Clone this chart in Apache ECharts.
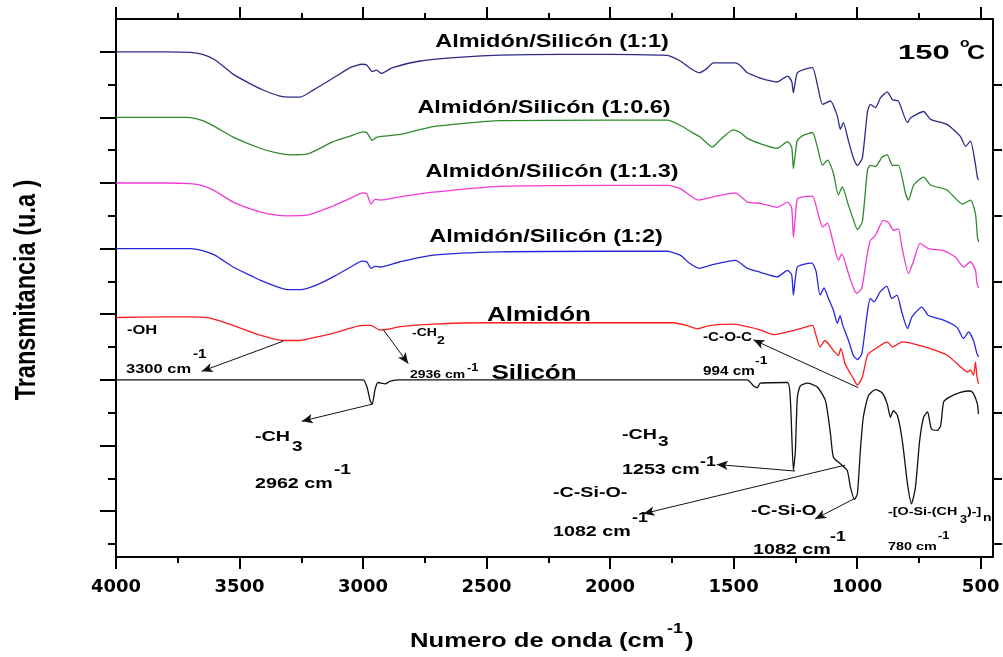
<!DOCTYPE html>
<html><head><meta charset="utf-8">
<script src="https://cdn.jsdelivr.net/npm/echarts@6/dist/echarts.min.js"></script>
<style>html,body{margin:0;padding:0;background:#fff}#c{width:1003px;height:657px}</style>
</head><body><div id="c"></div>
<script>
// ---- tick values ----
const xTickLabels = [500,1000,1500,2000,2500,3000,3500,4000];
const xMinorTicks = [750,1250,1750,2250,2750,3250,3750];
const yMajorTicks = [0,1,2,3,4,5,6,7];
const yMinorTicks = [-0.5,0.5,1.5,2.5,3.5,4.5,5.5,6.5];

// ---- series names / colours ----
const seriesNames = ['Almidón/Silicón (1:1)','Almidón/Silicón (1:0.6)','Almidón/Silicón (1:1.3)','Almidón/Silicón (1:2)','Almidón','Silicón'];
const seriesColors = ['#2c2c86','#2d8a2d','#f23ad4','#2626dc','#ff1c1c','#111111'];

// ---- spectra: wavenumber (cm-1) and transmittance (u.a., offset) ----
const wn_11 = [4000,3800,3700,3650,3600,3526,3450,3400,3340,3300,3255,3200,3121,3052,3004,2985,2963,2945,2927,2880,2769,2600,2445,2200,2000,1800,1768,1716,1680,1639,1610,1582,1493,1470,1444,1392,1365,1323,1282,1265,1258,1250,1242,1217,1181,1161,1140,1108,1080,1068,1056,1035,1015,999,979,958,946,926,905,878,857,833,796,784,731,703,635,582,561,541,521,513,508];
const t_11 = [7.00,7.00,6.99,6.96,6.88,6.66,6.50,6.41,6.33,6.31,6.31,6.42,6.60,6.76,6.81,6.80,6.70,6.72,6.67,6.76,6.86,6.92,6.95,6.96,6.96,6.95,6.945,6.86,6.76,6.68,6.74,6.83,6.83,6.78,6.68,6.60,6.57,6.54,6.63,6.55,6.375,6.55,6.68,6.73,6.76,6.50,6.20,6.25,6.02,5.82,5.92,5.64,5.38,5.27,5.38,6.09,6.20,6.15,6.30,6.39,6.27,6.25,5.92,5.99,6.09,5.97,5.89,5.71,5.56,5.64,5.28,5.08,5.05];

const wn_106 = [4000,3800,3713,3650,3600,3526,3417,3350,3295,3227,3121,3050,3000,2985,2963,2943,2850,2716,2445,2000,1768,1716,1663,1635,1586,1554,1501,1473,1444,1392,1323,1282,1265,1258,1250,1242,1217,1181,1161,1140,1120,1096,1076,1060,1035,1015,999,979,958,946,926,898,878,857,833,804,792,771,731,703,635,574,541,521,513,508];
const t_106 = [6.00,6.00,6.00,5.95,5.86,5.70,5.53,5.46,5.43,5.44,5.63,5.72,5.78,5.77,5.65,5.70,5.74,5.86,5.95,5.96,5.96,5.88,5.76,5.70,5.55,5.66,5.81,5.77,5.68,5.60,5.53,5.63,5.55,5.22,5.45,5.65,5.73,5.77,5.55,5.27,5.35,5.15,4.82,4.94,4.66,4.44,4.29,4.41,5.20,5.27,5.25,5.40,5.43,5.27,5.27,4.84,4.74,4.97,5.09,4.97,4.89,4.68,4.74,4.53,4.18,4.10];

const wn_113 = [4000,3800,3700,3650,3600,3526,3417,3350,3307,3227,3121,3050,3000,2985,2968,2951,2930,2850,2716,2445,2000,1768,1716,1643,1582,1493,1444,1392,1323,1282,1265,1258,1250,1242,1217,1181,1161,1140,1120,1096,1076,1062,1035,1015,1001,981,961,947,926,894,873,853,833,819,792,771,745,711,650,602,569,541,521,515,508];
const t_113 = [5.00,5.00,4.99,4.96,4.88,4.71,4.56,4.51,4.50,4.51,4.65,4.77,4.85,4.84,4.68,4.75,4.74,4.79,4.86,4.95,4.965,4.965,4.915,4.74,4.79,4.85,4.71,4.69,4.63,4.71,4.62,4.17,4.50,4.76,4.79,4.80,4.58,4.33,4.39,4.08,3.82,3.92,3.62,3.40,3.32,3.40,3.87,4.12,4.20,4.43,4.40,4.28,4.30,4.03,3.62,3.82,4.08,4.00,3.97,3.87,3.72,3.80,3.67,3.47,3.40];

const wn_12 = [4000,3800,3700,3650,3600,3526,3450,3417,3350,3307,3243,3180,3121,3050,3004,2985,2968,2951,2930,2850,2716,2445,2000,1768,1716,1680,1639,1582,1493,1444,1392,1323,1282,1265,1258,1250,1242,1217,1183,1166,1150,1134,1117,1096,1080,1069,1058,1035,1015,999,981,961,947,931,907,880,860,839,819,796,778,738,711,650,596,569,549,529,515,508];
const t_12 = [4.00,4.00,4.00,3.97,3.90,3.72,3.58,3.52,3.42,3.375,3.38,3.46,3.57,3.72,3.81,3.80,3.70,3.73,3.72,3.80,3.90,3.95,3.96,3.96,3.90,3.78,3.70,3.76,3.82,3.70,3.64,3.57,3.67,3.60,3.29,3.55,3.72,3.76,3.78,3.65,3.29,3.40,3.25,3.06,2.86,2.98,2.83,2.60,2.37,2.31,2.40,2.96,3.24,3.19,3.34,3.43,3.24,3.29,3.03,2.78,2.96,3.11,2.98,2.91,2.80,2.63,2.73,2.60,2.40,2.35];

const wn_alm = [4000,3800,3700,3631,3580,3526,3417,3323,3255,3190,3121,3000,2970,2930,2903,2850,2716,2498,2000,1744,1690,1647,1594,1501,1444,1392,1339,1282,1230,1181,1169,1150,1130,1096,1076,1066,1049,1028,1015,999,979,958,926,878,857,817,771,703,635,582,554,541,529,521,515,508];
const t_alm = [2.95,2.96,2.96,2.95,2.90,2.83,2.68,2.60,2.60,2.65,2.71,2.83,2.83,2.76,2.77,2.81,2.85,2.87,2.87,2.87,2.83,2.78,2.83,2.85,2.81,2.76,2.69,2.73,2.78,2.83,2.71,2.50,2.60,2.45,2.37,2.48,2.25,2.10,2.02,1.92,2.04,2.375,2.475,2.58,2.50,2.58,2.55,2.475,2.375,2.20,2.12,2.15,2.07,2.27,2.05,1.94];

const wn_sil = [4000,3000,2984,2971,2963,2951,2939,2910,2890,2850,1444,1420,1404,1392,1282,1270,1258,1250,1242,1230,1201,1161,1128,1108,1096,1068,1040,1027,1011,999,987,975,954,926,898,878,865,853,837,817,796,780,764,747,731,715,699,675,662,650,630,582,541,529,513,509];
const t_sil = [2.00,2.00,1.89,1.68,1.63,1.86,1.96,1.94,1.98,2.00,2.00,1.91,1.88,1.95,1.96,1.68,0.62,0.92,1.73,1.91,1.95,1.89,1.68,1.18,0.82,0.72,0.62,0.36,0.18,0.26,0.92,1.43,1.76,1.85,1.80,1.63,1.43,1.53,1.46,1.07,0.41,0.11,0.36,1.07,1.43,1.51,1.25,1.23,1.30,1.66,1.73,1.81,1.83,1.79,1.63,1.48];

// ---- annotation arrows (data coordinates: from -> to) ----
const arrows = [
  [[3323,2.59],[3653,2.13]],
  [[2918,2.765],[2817,2.247]],
  [[2962,1.63],[3248,1.37]],
  [[995,1.88],[1420,2.61]],
  [[1251,0.61],[1568,0.71]],
  [[1049,0.70],[1865,-0.04]],
  [[1011,0.19],[1170,-0.12]]
];

const wnList = [wn_11, wn_106, wn_113, wn_12, wn_alm, wn_sil];
const tList = [t_11, t_106, t_113, t_12, t_alm, t_sil];

const FONT = "'Liberation Sans', Arial, sans-serif";
function txt(t, x, y, fs, o) {
  o = o || {};
  const al = o.align || 'left';
  return {type:'text', x:x, y:y, scaleX:(o.sx!==undefined?o.sx:1.27), scaleY:(o.sy||1), rotation:(o.rot||0), silent:true, z:100,
    style:{text:t, fill:'#000', font:'bold ' + fs + 'px ' + FONT, textAlign:al, align:al, textVerticalAlign:'middle', verticalAlign:'middle'}};
}

const lineAx = {show:true, onZero:false, lineStyle:{color:'#000', width:2}};
const noLine = {show:false, onZero:false};
const tickStyle = {color:'#000', width:2};
function xAx(pos, ticks, len, showLine, showLabel) {
  return {type:'value', position:pos, inverse:true, min:450, max:4000,
    axisLine: showLine ? lineAx : noLine,
    axisTick:{show:true, inside:false, customValues:ticks, length:len, lineStyle:tickStyle},
    axisLabel: showLabel ? {show:true, customValues:xTickLabels, margin:21, formatter:function(v){ return String(v); },
      fontFamily:'DejaVu Sans', fontWeight:'bold', fontSize:18, color:'#000'} : {show:false},
    splitLine:{show:false}};
}
function yAx(pos, ticks, len, showLine) {
  return {type:'value', position:pos, min:-0.7, max:7.5,
    axisLine: showLine ? lineAx : noLine,
    axisTick:{show:true, inside:false, customValues:ticks, length:len, lineStyle:tickStyle},
    axisLabel:{show:false}, splitLine:{show:false}};
}

const chart = echarts.init(document.getElementById('c'), null, {renderer:'canvas'});

const series = seriesNames.map(function(n, i){
  const s = {type:'line', name:n, xAxisIndex:0, yAxisIndex:0, showSymbol:false, symbol:'none', smooth:0.2,
    data: wnList[i].map(function(x, k){ return [x, tList[i][k]]; }),
    lineStyle:{color:seriesColors[i], width:1.3}, itemStyle:{color:seriesColors[i]}, silent:true, z:2};
  if (i === seriesNames.length - 1) {
    s.markLine = {silent:true, symbol:['none','arrow'], symbolSize:[7,11], label:{show:false},
      lineStyle:{color:'#111', width:1, type:'solid'}, emphasis:{disabled:true},
      data: arrows.map(function(a){ return [{coord:a[0]},{coord:a[1]}]; })};
  }
  return s;
});

const graphics = [
  // series labels
  txt(seriesNames[0], 552, 42, 18.5, {align:'center'}),
  txt(seriesNames[1], 544, 108, 18.5, {align:'center'}),
  txt(seriesNames[2], 552, 172, 18.5, {align:'center'}),
  txt(seriesNames[3], 546, 237, 18.5, {align:'center'}),
  txt(seriesNames[4], 539, 315, 20, {align:'center', sx:1.3}),
  txt(seriesNames[5], 534, 373, 20, {align:'center', sx:1.3}),
  // temperature
  txt('150', 898, 53, 20, {sx:1.55}),
  txt('o', 960, 43, 13, {sx:1.2}),
  txt('C', 967, 53, 20, {sx:1.25}),
  // axis titles
  txt('Numero de onda (cm', 410, 641, 20, {sx:1.28}),
  txt('-1', 667, 629, 15, {sx:1.2}),
  txt(')', 685, 641, 20, {sx:1.28}),
  txt('Transmitancia (u.a )', 27, 290, 23.5, {align:'center', sx:1, sy:1.27, rot:Math.PI/2}),
  // band annotations
  txt('-OH', 127, 330, 13),
  txt('3300 cm', 126, 369.5, 13),
  txt('-1', 193, 355, 12),
  txt('-CH', 412, 333, 11),
  txt('2', 437, 341, 11),
  txt('2936 cm', 410, 375, 11),
  txt('-1', 467, 368, 10),
  txt('-CH', 255, 437, 15.5),
  txt('3', 292, 447, 15),
  txt('2962 cm', 255, 484, 15.5),
  txt('-1', 334, 470, 15),
  txt('-C-O-C', 703, 338, 12),
  txt('994 cm', 703, 372, 12),
  txt('-1', 755, 361, 11),
  txt('-CH', 622, 435, 15.5),
  txt('3', 658, 442, 15),
  txt('1253 cm', 622, 470, 15.5),
  txt('-1', 700, 462, 14),
  txt('-C-Si-O-', 553, 493, 15.5),
  txt('1082 cm', 553, 532, 15.5),
  txt('-1', 632, 518, 14),
  txt('-C-Si-O', 751, 511, 15),
  txt('1082 cm', 753, 550, 15.5),
  txt('-1', 830, 537, 14),
  txt('-[O-Si-(CH', 888, 512, 11.3),
  txt('3', 960, 520, 10),
  txt(')-]', 967, 512, 11.3),
  txt('n', 983, 518, 11),
  txt('780 cm', 888, 547, 11.3),
  txt('-1', 938, 536, 10)
];

chart.setOption({
  animation:false,
  backgroundColor:'#fff',
  grid:{left:116, right:10, top:19, bottom:100, containLabel:false, outerBoundsMode:'none'},
  xAxis:[
    xAx('bottom', xTickLabels, 12, true, true),
    xAx('bottom', xMinorTicks, 6, false, false),
    xAx('top', xTickLabels, 12, true, false),
    xAx('top', xMinorTicks, 6, false, false)
  ],
  yAxis:[
    yAx('left', yMajorTicks, 16, true),
    yAx('left', yMinorTicks, 8, false),
    yAx('right', yMinorTicks, 9, true)
  ],
  series: series,
  graphic: graphics
});
</script>
</body></html>
